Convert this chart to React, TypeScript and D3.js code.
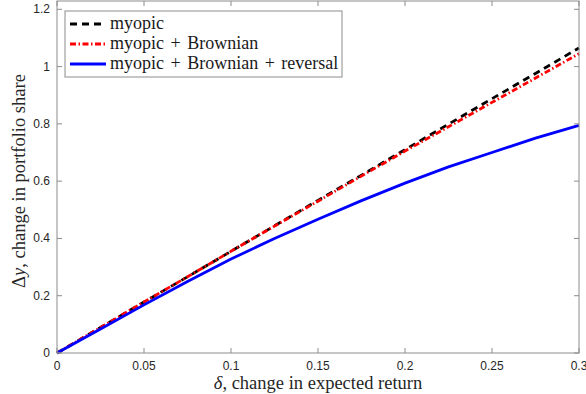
import React, { useEffect, useRef } from 'react';
import * as d3 from 'd3';

// delta grid and the three curves
const delta = [0, 0.025, 0.05, 0.075, 0.1, 0.125, 0.15, 0.175, 0.2, 0.225, 0.25, 0.275, 0.3];
const myopic = [0, 0.089, 0.178, 0.266, 0.355, 0.444, 0.533, 0.621, 0.71, 0.799, 0.888, 0.976, 1.065];
const brownian = [0, 0.089, 0.178, 0.266, 0.355, 0.443, 0.53, 0.618, 0.705, 0.79, 0.875, 0.96, 1.045];
const reversal = [0, 0.084, 0.168, 0.25, 0.328, 0.4, 0.467, 0.532, 0.593, 0.65, 0.7, 0.75, 0.795];

const xTicks = [0, 0.05, 0.1, 0.15, 0.2, 0.25, 0.3];
const yTicks = [0, 0.2, 0.4, 0.6, 0.8, 1, 1.2];
const seriesNames = ['myopic', 'myopic + Brownian', 'myopic + Brownian + reversal'];

const SERIF = '"Liberation Serif", "Times New Roman", serif';
const SANS = '"Liberation Sans", Arial, sans-serif';

export default function App() {
  const ref = useRef<SVGSVGElement>(null);

  useEffect(() => {
    const W = 586, H = 394;
    const margin = { top: 1, right: 7, bottom: 41, left: 57 };
    const width = W - margin.left - margin.right;
    const height = H - margin.top - margin.bottom;
    const axisColor = '#8c8c8c';

    const svg = d3.select(ref.current);
    svg.selectAll('*').remove();
    const g = svg.append('g').attr('transform', `translate(${margin.left},${margin.top})`);

    const x = d3.scaleLinear().domain([0, 0.3]).range([0, width]);
    const y = d3.scaleLinear().domain([0, 1.229]).range([height, 0]);

    // lines
    const series = [
      { vals: myopic, color: '#000000', dash: '7,5', width: 2.8 },
      { vals: brownian, color: '#ff0000', dash: '6,2.5,1.5,2.5', width: 2.8 },
      { vals: reversal, color: '#0000ff', dash: null, width: 2.8 },
    ];
    const line = d3.line<number>().x((_, i) => x(delta[i])).y(d => y(d));
    series.forEach(s => {
      g.append('path')
        .attr('d', line(s.vals))
        .attr('fill', 'none')
        .attr('stroke', s.color)
        .attr('stroke-width', s.width)
        .attr('stroke-dasharray', s.dash)
        .attr('stroke-linejoin', 'round');
    });

    // box
    g.append('rect')
      .attr('x', 0).attr('y', 0).attr('width', width).attr('height', height)
      .attr('fill', 'none').attr('stroke', axisColor).attr('stroke-width', 1);

    // ticks (inward, all four sides)
    const tl = 5;
    xTicks.forEach(t => {
      g.append('line').attr('x1', x(t)).attr('x2', x(t)).attr('y1', height).attr('y2', height - tl).attr('stroke', axisColor);
      g.append('line').attr('x1', x(t)).attr('x2', x(t)).attr('y1', 0).attr('y2', tl).attr('stroke', axisColor);
      g.append('text')
        .attr('x', x(t)).attr('y', height + 17)
        .attr('text-anchor', 'middle')
        .style('font-family', SANS)
        .style('font-size', '12px')
        .attr('fill', '#262626')
        .text(String(t));
    });
    yTicks.forEach(t => {
      g.append('line').attr('x1', 0).attr('x2', tl).attr('y1', y(t)).attr('y2', y(t)).attr('stroke', axisColor);
      g.append('line').attr('x1', width).attr('x2', width - tl).attr('y1', y(t)).attr('y2', y(t)).attr('stroke', axisColor);
      g.append('text')
        .attr('x', -7).attr('y', y(t) + 4)
        .attr('text-anchor', 'end')
        .style('font-family', SANS)
        .style('font-size', '12px')
        .attr('fill', '#262626')
        .text(String(t));
    });

    // axis labels
    const xl = g.append('text')
      .attr('x', width / 2).attr('y', height + 36)
      .attr('text-anchor', 'middle')
      .style('font-family', SERIF)
      .style('font-size', '18.5px')
      .attr('fill', '#262626');
    xl.append('tspan').style('font-style', 'italic').text('δ');
    xl.append('tspan').text(', change in expected return');

    const yl = g.append('text')
      .attr('transform', `translate(${-32},${height / 2 + 4}) rotate(-90)`)
      .attr('text-anchor', 'middle')
      .style('font-family', SERIF)
      .style('font-size', '18.5px')
      .attr('fill', '#262626');
    yl.append('tspan').text('Δ');
    yl.append('tspan').style('font-style', 'italic').text('y');
    yl.append('tspan').text(', change in portfolio share');

    // legend
    const lg = g.append('g').attr('transform', 'translate(8,10)');
    lg.append('rect')
      .attr('x', 0).attr('y', 0).attr('width', 277).attr('height', 66)
      .attr('fill', '#ffffff').attr('stroke', axisColor).attr('stroke-width', 1);
    series.forEach((s, i) => {
      const yy = 13 + i * 20;
      lg.append('line')
        .attr('x1', 5).attr('x2', 41).attr('y1', yy).attr('y2', yy)
        .attr('stroke', s.color).attr('stroke-width', s.width)
        .attr('stroke-dasharray', s.dash);
      lg.append('text')
        .attr('x', 45).attr('y', yy + 5)
        .style('font-family', SERIF)
        .style('font-size', '18px')
        .style('word-spacing', '2px')
        .attr('fill', '#1a1a1a')
        .text(seriesNames[i]);
    });
  }, []);

  return (
    <svg ref={ref} width={586} height={394}
      style={{ position: 'absolute', left: 0, top: 0, background: '#fff' }} />
  );
}
